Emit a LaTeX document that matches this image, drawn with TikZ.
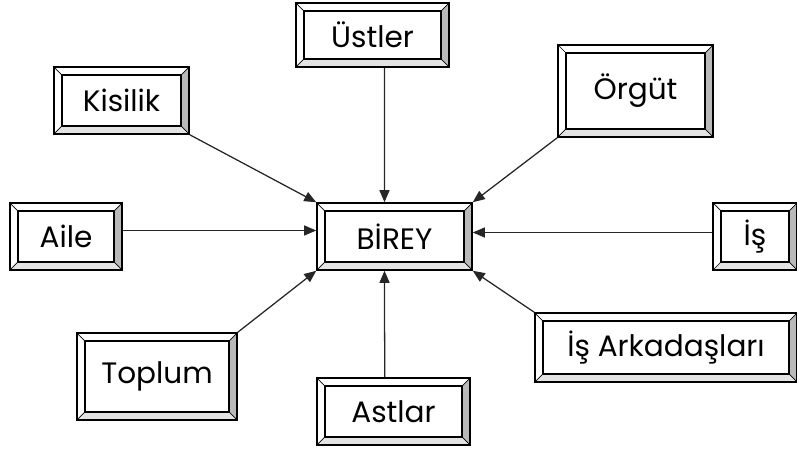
\documentclass[tikz,border=0pt]{standalone}
\usepackage{fontspec}
\setmainfont{Poppins}
\usetikzlibrary{arrows.meta,calc}
\newcommand{\bv}{0.2cm}

\begin{document}
\begin{tikzpicture}[x=0.025cm, y=-0.025cm,
    every node/.style={font=\fontsize{21}{25}\selectfont},
    bevelbox/.style={draw, line width=1.1pt, fill=white, inner sep=0pt,
      path picture={
        \coordinate (pa) at (path picture bounding box.south west);
        \coordinate (pb) at (path picture bounding box.north east);
        \coordinate (qa) at ($(pa)+(\bv,\bv)$);
        \coordinate (qb) at ($(pb)-(\bv,\bv)$);
        \fill[gray!55] (pb |- pa) -- (pb) -- (qb) -- (qb |- qa) -- cycle;
        \fill[gray!22] (pa) -- (pb |- pa) -- (qb |- qa) -- (qa) -- cycle;
        \draw[line width=0.5pt] (pa) -- (qa) (pb) -- (qb)
          (pa |- pb) -- (qa |- qb) (pb |- pa) -- (qb |- qa);
        \draw[line width=1.1pt] (qa) rectangle (qb);
      }},
    conn/.style={draw=black!85, line width=0.9pt, -{Triangle[length=0.3cm,width=0.25cm]}}]
  \useasboundingbox (0,0) rectangle (797,452);

  \node[bevelbox, minimum width=3.875cm, minimum height=1.675cm] (birey) at (394.5,236.5) {BİREY};
  \node[bevelbox, minimum width=3.825cm, minimum height=1.6cm] (ustler) at (372.5,35) {Üstler};
  \node[bevelbox, minimum width=3.375cm, minimum height=1.675cm] (kisilik) at (121.5,100.5) {Kisilik};
  \node[bevelbox, minimum width=3.875cm, minimum height=2.3cm] (orgut) at (635.5,91) {Örgüt};
  \node[bevelbox, minimum width=2.8cm, minimum height=1.675cm] (aile) at (66,236.5) {Aile};
  \node[bevelbox, minimum width=2.1cm, minimum height=1.675cm] (is) at (755,236.5) {İş};
  \node[bevelbox, minimum width=4.0cm, minimum height=2.175cm] (toplum) at (157,376.5) {Toplum};
  \node[bevelbox, minimum width=3.825cm, minimum height=1.675cm] (astlar) at (393.5,411.5) {Astlar};
  \node[bevelbox, minimum width=6.55cm, minimum height=1.725cm] (isark) at (666,347.5) {İş Arkadaşları};

  \draw[conn] (kisilik.south east) -- (birey.north west);
  \draw[conn] ([xshift=0.3cm]ustler.south) -- ([xshift=-0.25cm]birey.north);
  \draw[conn] (orgut.south west) -- (birey.north east);
  \draw[conn] ([yshift=0.15cm]aile.east) -- ([yshift=0.15cm]birey.west);
  \draw[conn] ([yshift=0.1cm]is.west) -- ([yshift=0.1cm]birey.east);
  \draw[conn] (toplum.north east) -- (birey.south west);
  \draw[conn] ([xshift=-0.22cm]astlar.north) -- ([xshift=-0.25cm]birey.south);
  \draw[conn] (isark.north west) -- (birey.south east);
\end{tikzpicture}
\end{document}
